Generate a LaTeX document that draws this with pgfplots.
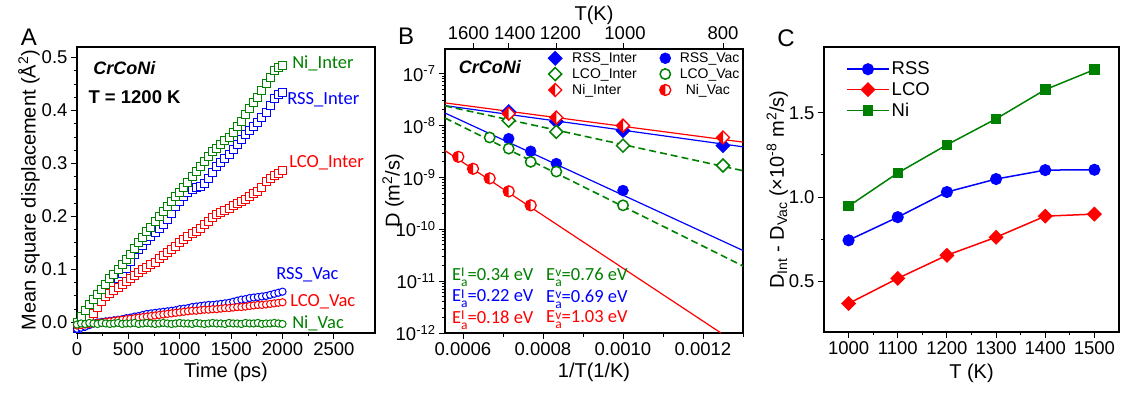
\documentclass[border=0pt]{standalone}
\usepackage{fontspec}
\setmainfont{Liberation Sans}
\newfontfamily\carl{Carlito}
\usepackage{pgfplots}
\usepackage{pgfplotstable}
\pgfplotsset{compat=1.18}
\definecolor{cgreen}{RGB}{0,128,0}
\definecolor{cred}{RGB}{255,0,0}
\definecolor{cblue}{RGB}{0,0,255}

\newcommand{\Ea}[1]{E\raisebox{-6pt}{\fontsize{13.5}{11}\selectfont\shortstack[l]{#1\\a}}}

\pgfdeclareplotmark{dia}{%
  \pgfpathmoveto{\pgfqpoint{0pt}{\pgfplotmarksize}}%
  \pgfpathlineto{\pgfqpoint{\pgfplotmarksize}{0pt}}%
  \pgfpathlineto{\pgfqpoint{0pt}{-\pgfplotmarksize}}%
  \pgfpathlineto{\pgfqpoint{-\pgfplotmarksize}{0pt}}%
  \pgfpathclose
  \pgfusepathqfillstroke}
\pgfdeclareplotmark{hdia}{%
  \pgfpathmoveto{\pgfqpoint{0pt}{\pgfplotmarksize}}%
  \pgfpathlineto{\pgfqpoint{\pgfplotmarksize}{0pt}}%
  \pgfpathlineto{\pgfqpoint{0pt}{-\pgfplotmarksize}}%
  \pgfpathlineto{\pgfqpoint{-\pgfplotmarksize}{0pt}}%
  \pgfpathclose
  \pgfsetfillcolor{white}\pgfusepathqfill
  \pgfpathmoveto{\pgfqpoint{0pt}{\pgfplotmarksize}}%
  \pgfpathlineto{\pgfqpoint{-\pgfplotmarksize}{0pt}}%
  \pgfpathlineto{\pgfqpoint{0pt}{-\pgfplotmarksize}}%
  \pgfpathclose
  \pgfsetfillcolor{cred}\pgfusepathqfill
  \pgfpathmoveto{\pgfqpoint{0pt}{\pgfplotmarksize}}%
  \pgfpathlineto{\pgfqpoint{\pgfplotmarksize}{0pt}}%
  \pgfpathlineto{\pgfqpoint{0pt}{-\pgfplotmarksize}}%
  \pgfpathlineto{\pgfqpoint{-\pgfplotmarksize}{0pt}}%
  \pgfpathclose
  \pgfusepathqstroke}
\pgfdeclareplotmark{hcirc}{%
  \pgfpathcircle{\pgfpointorigin}{\pgfplotmarksize}%
  \pgfsetfillcolor{white}\pgfusepathqfill
  \pgfpathmoveto{\pgfqpoint{0pt}{\pgfplotmarksize}}%
  \pgfpatharc{90}{270}{\pgfplotmarksize}%
  \pgfpathclose
  \pgfsetfillcolor{cred}\pgfusepathqfill
  \pgfpathcircle{\pgfpointorigin}{\pgfplotmarksize}%
  \pgfusepathqstroke}

\pgfplotsset{
  mystyle/.style={
    scale only axis, anchor=south west,
    axis line style={line width=1.2pt},
    every tick/.style={line width=1pt, black},
    major tick length=6pt, minor tick length=3.5pt,
    tick align=outside, tick pos=left,
    tick label style={font=\fontsize{18.5}{20}\selectfont},
    label style={font=\fontsize{20}{24}\selectfont},
    /pgf/number format/assume math mode=true,
    /pgf/number format/1000 sep={},
    scaled ticks=false,
  }
}

\pgfplotstableread{
t rssI lcoI niI rssV lcoV niV
0 -0.012 -0.008 0.000 -0.012 -0.006 -0.004
40 -0.008 -0.005 0.012 -0.010 -0.005 -0.002
80 -0.002 0.000 0.022 -0.008 -0.004 -0.003
120 0.008 0.008 0.033 -0.005 -0.003 -0.001
160 0.020 0.016 0.043 -0.002 -0.002 -0.002
200 0.032 0.028 0.053 0.000 -0.001 -0.003
240 0.044 0.040 0.063 0.001 0.000 -0.001
280 0.054 0.048 0.072 0.002 0.001 -0.002
320 0.064 0.054 0.082 0.003 0.002 -0.003
360 0.074 0.060 0.091 0.004 0.003 -0.002
400 0.083 0.066 0.100 0.005 0.004 -0.001
440 0.092 0.071 0.110 0.006 0.005 -0.003
480 0.102 0.077 0.119 0.008 0.006 -0.002
520 0.115 0.083 0.129 0.009 0.007 -0.002
560 0.128 0.089 0.140 0.011 0.008 -0.001
600 0.138 0.094 0.151 0.012 0.009 -0.003
640 0.146 0.099 0.161 0.014 0.010 -0.002
680 0.155 0.104 0.171 0.016 0.011 -0.001
720 0.163 0.109 0.180 0.017 0.012 -0.002
760 0.170 0.114 0.190 0.018 0.013 -0.003
800 0.177 0.120 0.200 0.019 0.014 -0.002
840 0.185 0.126 0.210 0.020 0.015 -0.001
880 0.195 0.132 0.219 0.021 0.016 -0.002
920 0.206 0.138 0.228 0.022 0.017 -0.003
960 0.218 0.144 0.237 0.023 0.018 -0.002
1000 0.229 0.150 0.246 0.025 0.019 -0.001
1040 0.238 0.156 0.255 0.026 0.020 -0.002
1080 0.245 0.162 0.265 0.027 0.021 -0.002
1120 0.250 0.167 0.275 0.029 0.022 -0.003
1160 0.254 0.172 0.285 0.030 0.022 -0.001
1200 0.257 0.178 0.294 0.031 0.023 -0.002
1240 0.263 0.184 0.303 0.032 0.024 -0.003
1280 0.272 0.191 0.313 0.033 0.024 -0.002
1320 0.283 0.198 0.322 0.033 0.025 -0.001
1360 0.294 0.203 0.329 0.034 0.025 -0.002
1400 0.302 0.207 0.336 0.035 0.026 -0.002
1440 0.310 0.211 0.343 0.036 0.027 -0.003
1480 0.317 0.215 0.350 0.037 0.027 -0.001
1520 0.326 0.220 0.359 0.039 0.028 -0.002
1560 0.336 0.224 0.369 0.041 0.029 -0.002
1600 0.346 0.228 0.380 0.043 0.029 -0.003
1640 0.355 0.232 0.392 0.044 0.030 -0.001
1680 0.363 0.237 0.404 0.046 0.031 -0.002
1720 0.370 0.243 0.415 0.047 0.032 -0.002
1760 0.377 0.248 0.425 0.048 0.033 -0.001
1800 0.386 0.255 0.437 0.049 0.033 -0.003
1840 0.396 0.266 0.452 0.050 0.034 -0.002
1880 0.410 0.272 0.463 0.052 0.035 -0.002
1920 0.422 0.277 0.475 0.054 0.036 -0.001
1960 0.430 0.282 0.481 0.056 0.037 -0.002
2000 0.435 0.286 0.485 0.058 0.038 -0.003
}\msd

\begin{document}
\begin{tikzpicture}
\useasboundingbox (0,0) rectangle (1132pt,396pt);
\node[font=\fontsize{24}{28}\selectfont] at (29pt,359pt) {A};
\node[font=\fontsize{24}{28}\selectfont] at (406pt,360pt) {B};
\node[font=\fontsize{24}{28}\selectfont] at (786pt,358pt) {C};

% ---------------- Panel A
\begin{axis}[mystyle, at={(77pt,63pt)}, width=298pt, height=286pt,
  xmin=0, xmax=2900, ymin=-0.02, ymax=0.52,
  xtick={0,500,1000,1500,2000,2500}, ytick={0,0.1,0.2,0.3,0.4,0.5},
  minor x tick num=1, minor y tick num=3,
  yticklabel style={/pgf/number format/.cd, fixed, fixed zerofill, precision=1},
  xlabel={Time (ps)}, ylabel={Mean square displacement (Å\textsuperscript{2})},
  xlabel style={at={(axis description cs:0.5,-0.136)}, anchor=center},
  ylabel style={at={(axis description cs:-0.161,0.5)}, anchor=center},
  clip=false]
\addplot[only marks, mark=square*, mark size=4pt, cblue, mark options={fill=white, line width=1pt}] table[x=t, y=rssI] {\msd};
\addplot[only marks, mark=square*, mark size=4pt, cred, mark options={fill=white, line width=1pt}] table[x=t, y=lcoI] {\msd};
\addplot[only marks, mark=square*, mark size=4pt, cgreen, mark options={fill=white, line width=1pt}] table[x=t, y=niI] {\msd};
\addplot[only marks, mark=*, mark size=3.6pt, cblue, mark options={fill=white, line width=1pt}] table[x=t, y=rssV] {\msd};
\addplot[only marks, mark=*, mark size=3.6pt, cred, mark options={fill=white, line width=1pt}] table[x=t, y=lcoV] {\msd};
\addplot[only marks, mark=*, mark size=3.6pt, cgreen, mark options={fill=white, line width=1pt}] table[x=t, y=niV] {\msd};
\node[anchor=west, font=\fontsize{18}{20}\selectfont\bfseries\itshape] at (axis cs:126,0.481) {CrCoNi};
\node[anchor=west, font=\fontsize{18.5}{20}\selectfont\bfseries] at (axis cs:78,0.425) {T = 1200 K};
\node[anchor=west, inner sep=0pt, text=cgreen, font=\fontsize{18.5}{20}\selectfont\carl] at (axis cs:2093,0.489) {Ni\_Inter};
\node[anchor=west, inner sep=0pt, text=cblue, font=\fontsize{18.5}{20}\selectfont\carl] at (axis cs:2045,0.421) {RSS\_Inter};
\node[anchor=west, inner sep=0pt, text=cred, font=\fontsize{18.5}{20}\selectfont\carl] at (axis cs:2064,0.301) {LCO\_Inter};
\node[anchor=west, inner sep=0pt, text=cblue, font=\fontsize{18.5}{20}\selectfont\carl] at (axis cs:1938,0.090) {RSS\_Vac};
\node[anchor=west, inner sep=0pt, text=cred, font=\fontsize{18.5}{20}\selectfont\carl] at (axis cs:2074,0.039) {LCO\_Vac};
\node[anchor=west, inner sep=0pt, text=cgreen, font=\fontsize{18.5}{20}\selectfont\carl] at (axis cs:2093,-0.002) {Ni\_Vac};
\end{axis}

% ---------------- Panel B
\begin{axis}[mystyle, at={(445pt,63pt)}, width=298pt, height=284pt,
  xmin=0.000555, xmax=0.0013, ymode=log, ymin=1e-12, ymax=3e-7,
  xtick={0.0006,0.0008,0.001,0.0012}, xticklabels={0.0006,0.0008,0.0010,0.0012},
  minor xtick={0.0007,0.0009,0.0011,0.0013},
  ytick={1e-12,1e-11,1e-10,1e-9,1e-8,1e-7},
  yticklabels={10\textsuperscript{-12},10\textsuperscript{-11},10\textsuperscript{-10},10\textsuperscript{-9},10\textsuperscript{-8},10\textsuperscript{-7}},
  xlabel={1/T(1/K)}, ylabel={D (m\textsuperscript{2}/s)},
  xlabel style={at={(axis description cs:0.5,-0.137)}, anchor=center},
  ylabel style={at={(axis description cs:-0.174,0.5)}, anchor=center},
  legend columns=2,
  legend cell align=left,
  legend style={draw=none, fill=none, at={(axis description cs:0.3456,0.995)}, anchor=north west,
    font=\fontsize{14}{16}\selectfont, inner sep=0pt, row sep=0.5pt, column sep=0pt},
  legend image code/.code={\draw[#1] plot coordinates {(0pt,0pt)};}
]
\addplot[cred, line width=1.2pt, forget plot] coordinates {(0.000555,2.74e-8) (0.0013,4.8e-9)};
\addplot[cblue, line width=1.2pt, forget plot] coordinates {(0.000555,2.43e-8) (0.0013,3.9e-9)};
\addplot[cgreen, line width=1.6pt, dashed, dash pattern=on 7pt off 4pt, forget plot] coordinates {(0.000555,2.4e-8) (0.0013,1.35e-9)};
\addplot[cblue, line width=1.2pt, forget plot] coordinates {(0.000555,1.75e-8) (0.0013,3.9e-11)};
\addplot[cgreen, line width=1.6pt, dashed, dash pattern=on 7pt off 4pt, forget plot] coordinates {(0.000555,1.4e-8) (0.0013,1.96e-11)};
\addplot[cred, line width=1.2pt, forget plot] coordinates {(0.000555,3.3e-9) (0.001245,1e-12)};

\addplot[only marks, mark=dia, mark size=7pt, cblue, mark options={fill=cblue, line width=0.8pt}] coordinates {(0.000714286,1.86e-8) (0.000833333,1.2e-8) (0.001,8.0e-9) (0.00125,4.1e-9)};
\addlegendentry{\hspace{8pt}RSS\_Inter\kern21pt}
\addplot[only marks, mark=*, mark size=5.5pt, cblue, mark options={fill=cblue}] coordinates {(0.000714286,5.6e-9) (0.000769231,3.2e-9) (0.000833333,1.85e-9) (0.001,5.6e-10)};
\addlegendentry{\hspace{7pt}RSS\_Vac}
\addplot[only marks, mark=dia, mark size=6.5pt, cgreen, mark options={fill=white, line width=1.5pt}] coordinates {(0.000714286,1.25e-8) (0.000833333,7.6e-9) (0.001,4.1e-9) (0.00125,1.7e-9)};
\addlegendentry{\hspace{8pt}LCO\_Inter\kern21pt}
\addplot[only marks, mark=*, mark size=5.2pt, cgreen, mark options={fill=white, line width=1.5pt}] coordinates {(0.000666667,5.9e-9) (0.000714286,3.6e-9) (0.000769231,2.0e-9) (0.000833333,1.3e-9) (0.001,2.9e-10)};
\addlegendentry{\hspace{7pt}LCO\_Vac}
\addplot[only marks, mark=hdia, mark size=6.5pt, cred, mark options={line width=1.3pt}] coordinates {(0.000714286,1.7e-8) (0.000833333,1.43e-8) (0.001,1.0e-8) (0.00125,5.9e-9)};
\addlegendentry{\hspace{8pt}Ni\_Inter\kern21pt}
\addplot[only marks, mark=hcirc, mark size=5.5pt, cred, mark options={line width=1.3pt}] coordinates {(0.000588235,2.5e-9) (0.000625,1.47e-9) (0.000666667,9.6e-10) (0.000714286,5.4e-10) (0.000769231,2.9e-10)};
\addlegendentry{\hspace{13pt}Ni\_Vac}

\node[anchor=west, font=\fontsize{18}{20}\selectfont\bfseries\itshape] at (axis description cs:0.035,0.937) {CrCoNi};
\node[anchor=west, inner sep=0pt, text=cgreen, font=\fontsize{18.5}{20}\selectfont\carl] at (axis description cs:0.023,0.197) {\Ea{I}=0.34 eV};
\node[anchor=west, inner sep=0pt, text=cgreen, font=\fontsize{18.5}{20}\selectfont\carl] at (axis description cs:0.339,0.197) {\Ea{v}=0.76 eV};
\node[anchor=west, inner sep=0pt, text=cblue, font=\fontsize{18.5}{20}\selectfont\carl] at (axis description cs:0.023,0.120) {\Ea{I}=0.22 eV};
\node[anchor=west, inner sep=0pt, text=cblue, font=\fontsize{18.5}{20}\selectfont\carl] at (axis description cs:0.339,0.120) {\Ea{v}=0.69 eV};
\node[anchor=west, inner sep=0pt, text=cred, font=\fontsize{18.5}{20}\selectfont\carl] at (axis description cs:0.023,0.046) {\Ea{I}=0.18 eV};
\node[anchor=west, inner sep=0pt, text=cred, font=\fontsize{18.5}{20}\selectfont\carl] at (axis description cs:0.339,0.046) {\Ea{v}=1.03 eV};
\end{axis}

% top axis of B
\begin{axis}[mystyle, at={(445pt,63pt)}, width=298pt, height=284pt,
  xmin=0.000555, xmax=0.0013, ymode=log, ymin=1e-12, ymax=3e-7,
  axis x line*=top, axis y line=none, tick pos=right,
  xtick={0.000625,0.000714286,0.000833333,0.001,0.00125},
  xticklabels={\makebox[0pt]{1600\hspace{9pt}},\makebox[0pt]{\hspace{12pt}1400},\makebox[0pt]{\hspace{8pt}1200},\makebox[0pt]{\hspace{4pt}1000},800},
  minor xtick={}, xlabel={T(K)},
  xlabel style={at={(axis description cs:0.5,1.12)}, anchor=center}]
\end{axis}

% ---------------- Panel C
\begin{axis}[mystyle, at={(824pt,64pt)}, width=295pt, height=285pt,
  xmin=950, xmax=1550, ymin=0.2, ymax=1.89,
  xtick={1000,1100,1200,1300,1400,1500}, ytick={0.5,1.0,1.5},
  minor x tick num=1, minor y tick num=1,
  yticklabel style={/pgf/number format/.cd, fixed, fixed zerofill, precision=1},
  xlabel={T (K)},
  ylabel={D\textsubscript{Int} - D\textsubscript{Vac} (×10\textsuperscript{-8} m\textsuperscript{2}/s)},
  xlabel style={at={(axis description cs:0.5,-0.144)}, anchor=center},
  ylabel style={at={(axis description cs:-0.158,0.5)}, anchor=center},
  legend cell align=left,
  legend style={draw=none, fill=none, at={(axis description cs:0.0746,0.955)}, anchor=north west,
    font=\fontsize{18.5}{20}\selectfont, inner sep=0pt, row sep=2pt},
  legend image code/.code={\draw[#1, mark repeat=2, mark phase=2] plot coordinates {(0pt,0pt) (21pt,0pt) (42pt,0pt)};}
]
\addplot[cblue, line width=1.5pt, mark=*, mark size=5.3pt, mark options={fill=cblue}] coordinates {(1000,0.744) (1100,0.881) (1200,1.03) (1300,1.107) (1400,1.16) (1500,1.162)};
\addlegendentry{RSS}
\addplot[cred, line width=1.5pt, mark=dia, mark size=6.5pt, mark options={fill=cred}] coordinates {(1000,0.369) (1100,0.518) (1200,0.655) (1300,0.762) (1400,0.887) (1500,0.899)};
\addlegendentry{LCO}
\addplot[cgreen, line width=1.5pt, mark=square*, mark size=4.5pt, mark options={fill=cgreen}] coordinates {(1000,0.946) (1100,1.143) (1200,1.31) (1300,1.464) (1400,1.637) (1500,1.756)};
\addlegendentry{Ni}
\end{axis}
\end{tikzpicture}
\end{document}
